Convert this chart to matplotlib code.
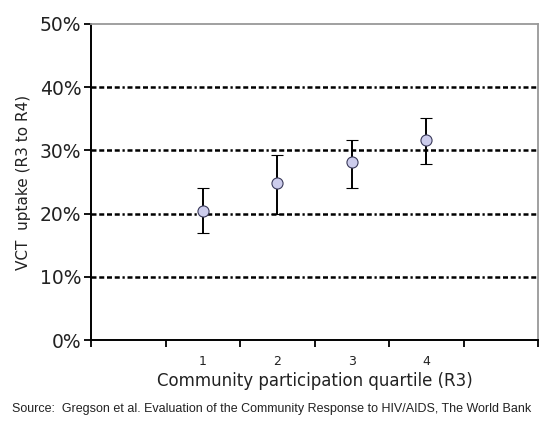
import matplotlib
matplotlib.use("Agg")
import matplotlib.pyplot as plt
import numpy as np

# VCT uptake by community participation quartile
quartiles = ["1", "2", "3", "4"]
uptake = [20.4, 24.9, 28.2, 31.6]
upper = [24.0, 29.3, 31.7, 35.2]
lower = [17.0, 20.0, 24.1, 27.9]

y_ticks = [0, 10, 20, 30, 40, 50]
source_text = "Source:  Gregson et al. Evaluation of the Community Response to HIV/AIDS, The World Bank"

fig = plt.figure(figsize=(5.41, 4.26), dpi=100)
ax = fig.add_axes([91 / 541, 86 / 426, 447 / 541, 316 / 426])

# category axis: empty slot each side, points sit in the middle of their slot
xpos = np.arange(len(quartiles)) + 1.5
yerr = [np.array(uptake) - np.array(lower), np.array(upper) - np.array(uptake)]

grid_style = (0, (2, 1.1, 2, 1.1, 2, 1.1, 2, 1.1, 0.9, 1.1))
for y in y_ticks[1:-1]:
    ax.axhline(y, color="black", lw=1.8, linestyle=grid_style, zorder=1)

ax.errorbar(xpos, uptake, yerr=yerr, fmt="o", color="black", ecolor="black",
            elinewidth=1.4, capsize=4.5, capthick=1.4, markersize=8,
            markerfacecolor="#ccccec", markeredgecolor="#3a3a5a",
            markeredgewidth=0.8, zorder=3)

ax.set_xlim(0, 6)
ax.set_ylim(0, 50)
ax.set_xticks(np.arange(0, 7))
ax.set_xticklabels([])
ax.set_xticks(xpos, minor=True)
ax.set_xticklabels(quartiles, minor=True, fontsize=9, color="#222222")
ax.tick_params(axis="x", which="minor", length=0, pad=11)
ax.tick_params(axis="x", which="major", direction="out", length=5, width=1.3)

ax.set_yticks(y_ticks)
ax.set_yticklabels([f"{v}%" for v in y_ticks], fontsize=13.5, color="#222222")
ax.tick_params(axis="y", direction="out", length=5, width=1.3, pad=2)

for side in ["left", "bottom"]:
    ax.spines[side].set_linewidth(1.4)
    ax.spines[side].set_color("black")
for side in ["top", "right"]:
    ax.spines[side].set_linewidth(1.3)
    ax.spines[side].set_color("#999999")

ax.set_ylabel("VCT  uptake (R3 to R4)", fontsize=11, color="#222222", labelpad=6)
ax.set_xlabel("Community participation quartile (R3)", fontsize=12,
              color="#222222", labelpad=3)

fig.text(272 / 541, 1 - 409 / 426, source_text, ha="center", va="center",
         fontsize=9, family="Liberation Sans", color="#222222")

fig.savefig("out.png", dpi=100, facecolor="white")
